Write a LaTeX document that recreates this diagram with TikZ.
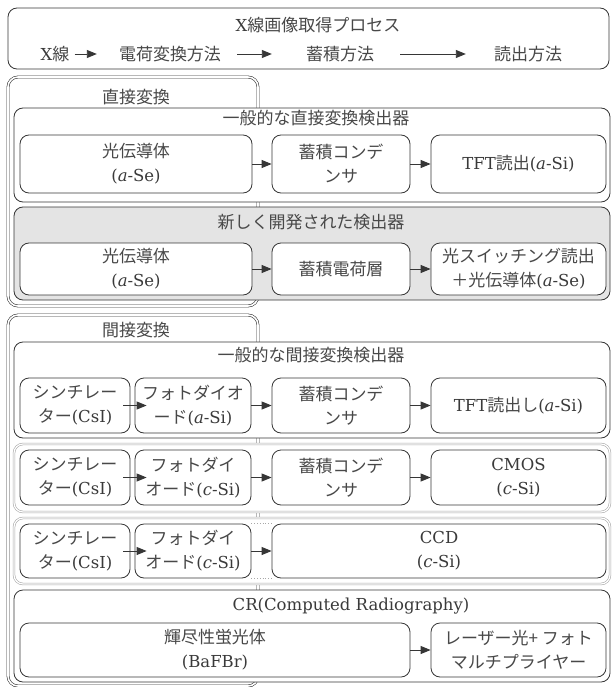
\documentclass[tikz,border=0pt]{standalone}
\usepackage{fontspec}
\setmainfont{DejaVu Serif}
\newfontfamily\jp{Noto Sans CJK JP}[Scale=1.03, Color=484848]
\usetikzlibrary{arrows.meta}
\definecolor{ln}{HTML}{363636}
\definecolor{tx}{HTML}{3A3A3A}
\definecolor{gfill}{HTML}{E4E4E4}
\definecolor{fr}{HTML}{A8A8A8}
\newcommand\mybox[7]{\node[#1, minimum width={#5-#3}, minimum height={#6-#4}] (#2) at ({(#3+#5)/2},{(#4+#6)/2}) {#7};}
\tikzset{
  every node/.style={text=tx, font=\fontsize{16.5}{24}\selectfont, align=center},
  rbox/.style={draw=ln, line width=0.8pt, rounded corners=9pt, fill=white, inner sep=0pt},
  graybox/.style={rbox, fill=gfill},
  secbox/.style={draw=ln, line width=0.6pt, double=white, double distance=1.6pt, rounded corners=10pt, fill=white, inner sep=0pt},
  framebox/.style={draw=fr, line width=0.6pt, double=white, double distance=1.2pt, rounded corners=9pt, fill=white, inner sep=0pt},
  lbl/.style={inner sep=0pt},
  arr/.style={-{Triangle[length=10pt,width=8pt]}, draw=ln, line width=0.9pt},
}
\begin{document}
\begin{tikzpicture}[x=1pt,y=-1pt]
\useasboundingbox (0,0) rectangle (612,687);
% top process box
\mybox{rbox}{proc}{8}{8}{609}{69}{}
\node[lbl] (ptitle) at (318,25) {X{\jp 線画像取得プロセス}};
\node[lbl] (t0) at (55,54) {X{\jp 線}};
\node[lbl] (t1) at (170,54) {\jp 電荷変換方法};
\node[lbl] (t2) at (340,54) {\jp 蓄積方法};
\node[lbl] (t3) at (528,54) {\jp 読出方法};
\draw[arr, shorten <=5pt, shorten >=22pt] (t0) -- (t1);
\draw[arr, shorten <=16pt, shorten >=34pt] (t1) -- (t2);
\draw[arr, shorten <=26pt, shorten >=28pt] (t2) -- (t3);

% direct conversion section
\mybox{secbox}{sec1}{8}{77}{258}{306}{}
\node[lbl] (sec1t) at (136,97) {\jp 直接変換};
\mybox{rbox}{g1}{14}{108}{610}{202}{}
\node[lbl] (g1t) at (316,118) {\jp 一般的な直接変換検出器};
\mybox{rbox}{a1}{20}{135}{252}{193}{{\jp 光伝導体}\\(\textit{a}-Se)}
\mybox{rbox}{b1}{272}{135}{410}{193}{\jp 蓄積コンデ\\\jp ンサ}
\mybox{rbox}{c1}{431}{135}{606}{193}{TFT{\jp 読出}(\textit{a}-Si)}
\draw[arr] (a1) -- (b1);
\draw[arr] (b1) -- (c1);

\mybox{graybox}{g2}{14}{207}{610}{300}{}
\node[lbl] (g2t) at (311,222) {\jp 新しく開発された検出器};
\mybox{rbox}{a2}{20}{243}{252}{295}{{\jp 光伝導体}\\(\textit{a}-Se)}
\mybox{rbox}{b2}{272}{243}{410}{295}{\jp 蓄積電荷層}
\mybox{rbox}{c2}{431}{243}{606}{295}{{\jp 光スイッチング読出}\\{\jp ＋光伝導体}(\textit{a}-Se)}
\draw[arr] (a2) -- (b2);
\draw[arr] (b2) -- (c2);

% indirect conversion section
\mybox{secbox}{sec2}{8}{315}{258}{686}{}
\node[lbl] (sec2t) at (136,330) {\jp 間接変換};
\mybox{rbox}{g3}{14}{342}{610}{438}{}
\node[lbl] (g3t) at (311,355) {\jp 一般的な間接変換検出器};
\mybox{rbox}{d1}{20}{378}{130}{433}{{\jp シンチレー}\\{\jp ター}(CsI)}
\mybox{rbox}{e1}{135}{378}{251}{433}{{\jp フォトダイオ}\\{\jp ード}(\textit{a}-Si)}
\mybox{rbox}{b3}{272}{378}{410}{433}{\jp 蓄積コンデ\\\jp ンサ}
\mybox{rbox}{c3}{431}{378}{606}{433}{TFT{\jp 読出し}(\textit{a}-Si)}
\draw[arr] ([xshift=-7pt]d1.east) -- ([xshift=12pt]e1.west);
\draw[arr] (e1) -- (b3);
\draw[arr] (b3) -- (c3);

\mybox{framebox}{f4}{14}{444}{610}{512}{}
\mybox{rbox}{d2}{20}{450}{130}{505}{{\jp シンチレー}\\{\jp ター}(CsI)}
\mybox{rbox}{e2}{135}{450}{251}{505}{{\jp フォトダイ}\\{\jp オード}(\textit{c}-Si)}
\mybox{rbox}{b4}{272}{450}{410}{505}{\jp 蓄積コンデ\\\jp ンサ}
\mybox{rbox}{c4}{431}{450}{606}{505}{CMOS\\(\textit{c}-Si)}
\draw[arr] ([xshift=-7pt]d2.east) -- ([xshift=12pt]e2.west);
\draw[arr] (e2) -- (b4);
\draw[arr] (b4) -- (c4);

\mybox{framebox}{f5}{14}{518}{610}{584}{}
\mybox{rbox}{d3}{20}{524}{130}{578}{{\jp シンチレー}\\{\jp ター}(CsI)}
\mybox{rbox}{e3}{135}{524}{251}{578}{{\jp フォトダイ}\\{\jp オード}(\textit{c}-Si)}
\mybox{rbox}{c5}{272}{524}{606}{578}{CCD\\(\textit{c}-Si)}
\draw[arr] ([xshift=-7pt]d3.east) -- ([xshift=12pt]e3.west);
\draw[arr] (e3) -- (c5);
\draw[fr, dotted, line width=0.8pt] (e3.north east) -- (c5.north west);
\draw[fr, dotted, line width=0.8pt] (e3.south east) -- (c5.south west);

\mybox{rbox}{g6}{14}{590}{610}{682}{}
\node[lbl] (g6t) at (351,606) {CR(Computed Radiography)};
\mybox{rbox}{h1}{20}{623}{410}{677}{{\jp 輝尽性蛍光体}\\(BaFBr)}
\mybox{rbox}{h2}{431}{623}{606}{677}{{\jp レーザー光+ フォト}\\{\jp マルチプライヤー}}
\draw[arr] (h1) -- (h2);
\end{tikzpicture}
\end{document}
